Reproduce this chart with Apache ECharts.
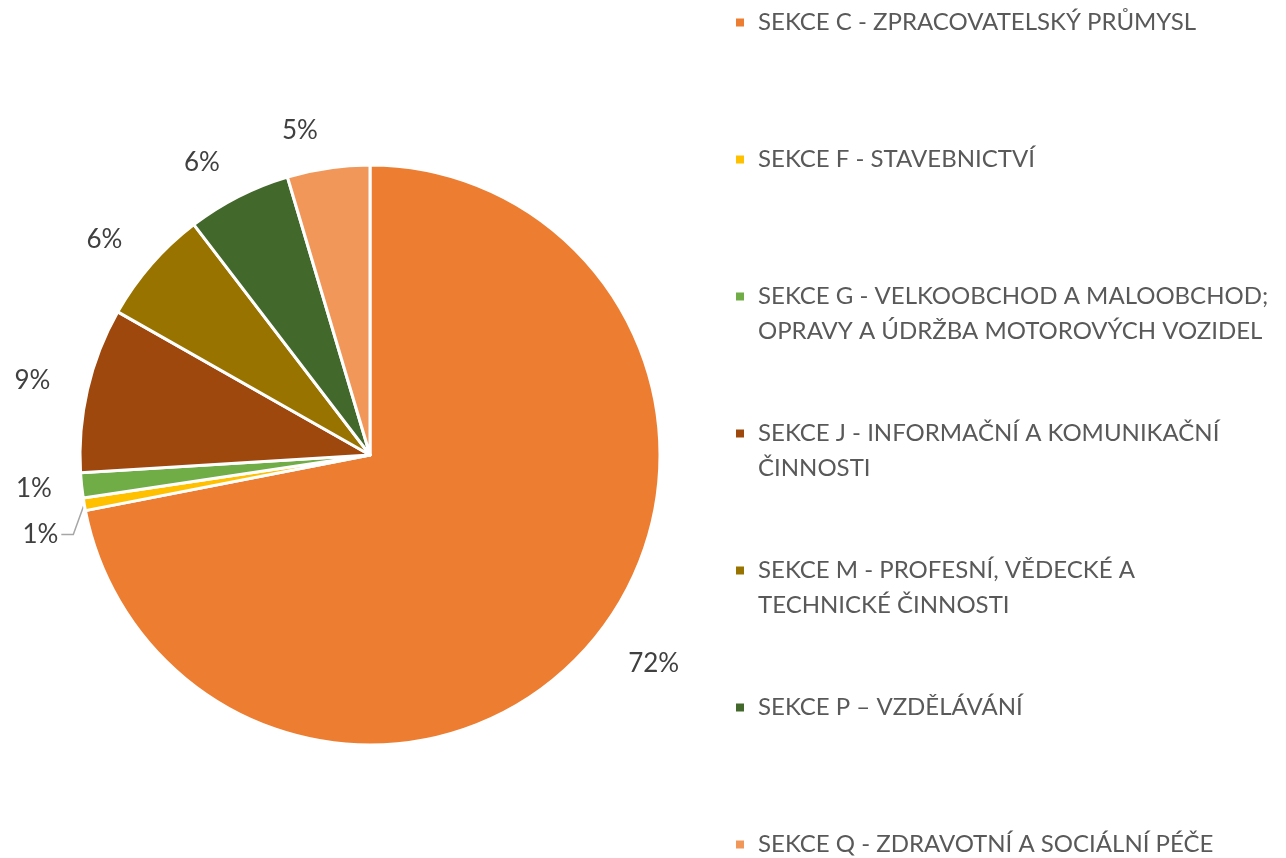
<!DOCTYPE html>
<html>
<head>
<meta charset="utf-8">
<script src="https://cdn.jsdelivr.net/npm/echarts@6/dist/echarts.min.js"></script>
<style>
  html, body { margin: 0; padding: 0; background: #fff; }
  #chart { width: 1286px; height: 858px; }
</style>
</head>
<body>
<div id="chart"></div>
<script>
// data
var sections = [
    'SEKCE C - ZPRACOVATELSKÝ PRŮMYSL',
    'SEKCE F - STAVEBNICTVÍ',
    'SEKCE G - VELKOOBCHOD A MALOOBCHOD;\nOPRAVY A ÚDRŽBA MOTOROVÝCH VOZIDEL',
    'SEKCE J - INFORMAČNÍ A KOMUNIKAČNÍ\nČINNOSTI',
    'SEKCE M - PROFESNÍ, VĚDECKÉ A\nTECHNICKÉ ČINNOSTI',
    'SEKCE P – VZDĚLÁVÁNÍ',
    'SEKCE Q - ZDRAVOTNÍ A SOCIÁLNÍ PÉČE'
];
var shares = [72.0, 0.7, 1.4, 9.2, 6.4, 5.8, 4.6];
var colors = ['#ED7D31', '#FFC000', '#70AD47', '#9E480E', '#997300', '#43682B', '#F1975A'];

var total = shares.reduce(function (a, b) { return a + b; }, 0);
var lineH = 35;

var pieData = sections.map(function (name, i) {
    var item = { name: name, value: shares[i], labelLine: { show: false } };
    if (i === 1) {
        item.labelLine = { show: true, length: 14, length2: 10 };
    } else if (i === 2) {
        item.labelLine = { show: false, length: 30, length2: 0 };
    }
    return item;
});

// one legend per item so the rows keep an even pitch
var legends = sections.map(function (name, i) {
    var twoLines = name.indexOf('\n') >= 0;
    return {
        orient: 'vertical',
        left: 734,
        top: 5 + i * 137 - (twoLines ? lineH : 0),
        padding: 0,
        data: [name],
        icon: 'rect',
        itemWidth: 10,
        itemHeight: 10,
        itemGap: 0,
        selectedMode: false,
        formatter: function (n) { return twoLines ? ' \n' + n : n; },
        textStyle: {
            color: '#595959',
            fontSize: 24,
            lineHeight: lineH,
            fontFamily: 'Lato',
            padding: [0, 0, 0, 8]
        }
    };
});

var chart = echarts.init(document.getElementById('chart'));
chart.setOption({
    animation: false,
    color: colors,
    legend: legends,
    series: [{
        type: 'pie',
        center: [370, 455],
        radius: [0, 290],
        startAngle: 90,
        clockwise: true,
        avoidLabelOverlap: true,
        itemStyle: { borderColor: '#fff', borderWidth: 3 },
        label: {
            position: 'outside',
            color: '#404040',
            fontSize: 26,
            fontFamily: 'Lato',
            overflow: 'none',
            edgeDistance: 0,
            formatter: function (p) { return Math.round(p.value / total * 100) + '%'; }
        },
        labelLine: {
            length: 38,
            length2: 0,
            lineStyle: { color: '#a6a6a6', width: 1.5 }
        },
        labelLayout: function (p) {
            // the small yellow slice's label sits a little lower, as in the source
            if (p.dataIndex !== 1 || !p.labelLinePoints) {
                return {};
            }
            var dx = -4, dy = 18;
            var r = p.labelRect;
            var start = p.labelLinePoints[0];
            var yMid = r.y + dy + r.height / 2;
            var xEnd = r.x + dx + r.width + 3;
            return {
                dx: dx,
                dy: dy,
                labelLinePoints: [start, [xEnd + 12, yMid], [xEnd, yMid]]
            };
        },
        emphasis: { disabled: true },
        data: pieData
    }]
});
</script>
</body>
</html>
